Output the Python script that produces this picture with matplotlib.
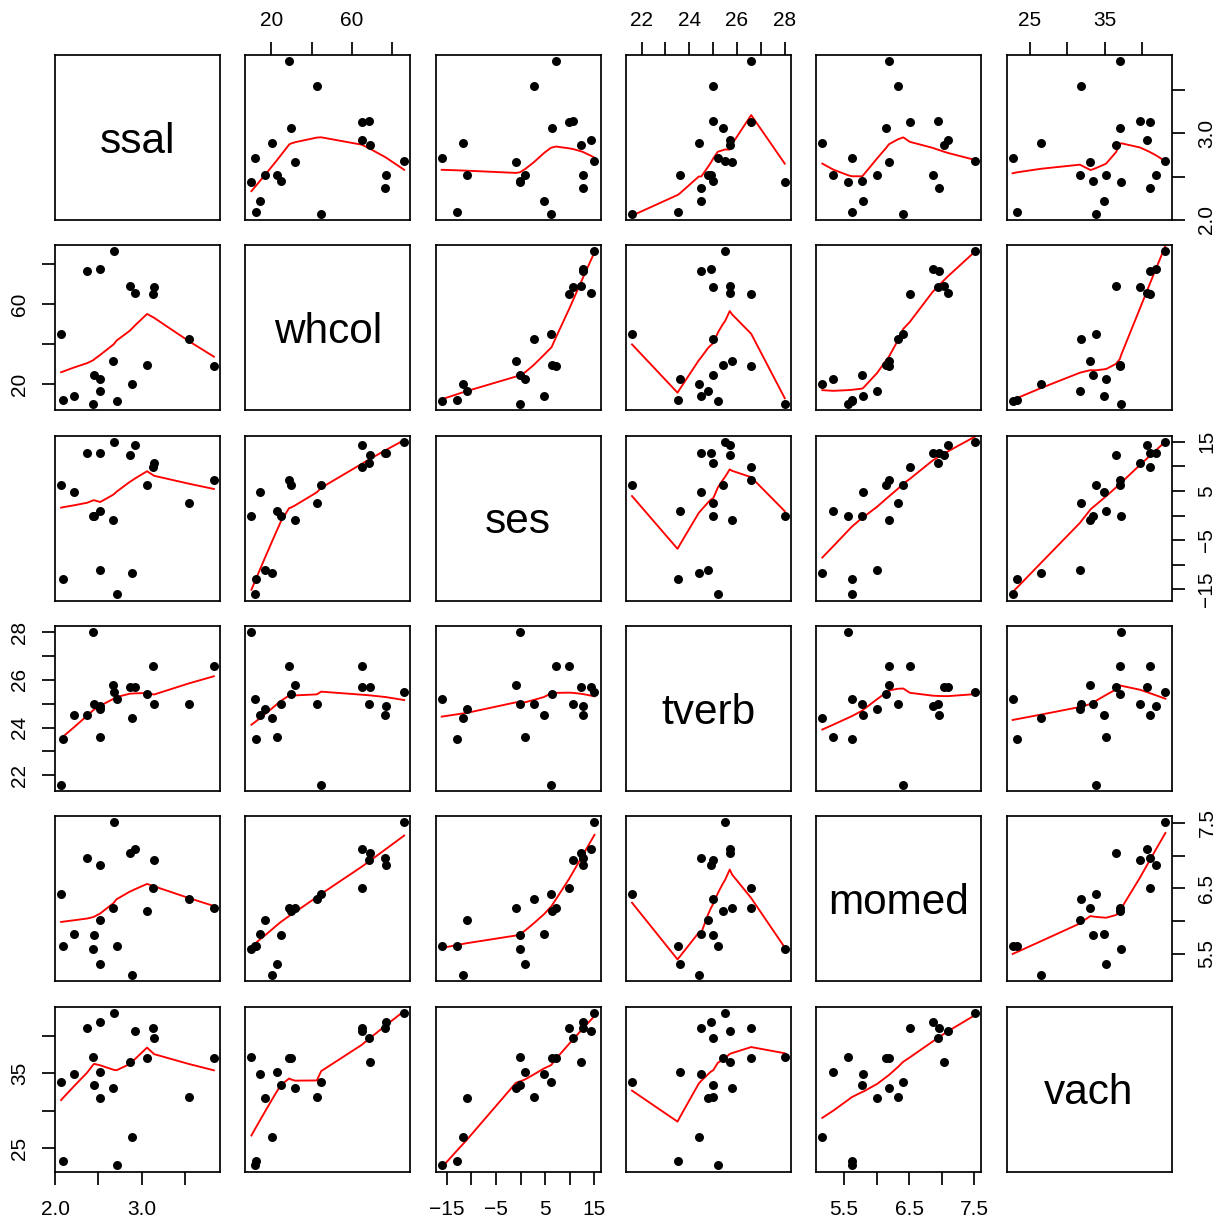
import numpy as np
import matplotlib
matplotlib.use("Agg")
import matplotlib.pyplot as plt
import matplotlib.transforms as mtransforms

plt.rcParams['font.family'] = ['Liberation Sans', 'DejaVu Sans']

# coleman 데이터 (20개 학교)
var_names = ["ssal", "whcol", "ses", "tverb", "momed", "vach"]
ssal = [3.83, 2.89, 2.86, 2.92, 3.06, 2.07, 2.52, 2.45, 3.13, 2.44,
        2.09, 2.52, 2.22, 2.67, 2.71, 3.14, 3.54, 2.52, 2.68, 2.37]
whcol = [28.87, 20.10, 69.05, 65.40, 29.59, 44.82, 77.37, 24.67, 65.01, 9.99,
         12.20, 22.55, 14.30, 31.79, 11.60, 68.47, 42.64, 16.70, 86.27, 76.73]
ses = [7.20, -11.71, 12.32, 14.28, 6.31, 6.16, 12.70, -0.17, 9.85, -0.05,
       -12.86, 0.92, 4.77, -0.96, -16.04, 10.62, 2.66, -10.99, 15.03, 12.77]
tverb = [26.60, 24.40, 25.70, 25.70, 25.40, 21.60, 24.90, 25.01, 26.60, 28.01,
         23.51, 23.60, 24.51, 25.80, 25.20, 25.01, 25.01, 24.80, 25.51, 24.51]
momed = [6.19, 5.17, 7.04, 7.10, 6.15, 6.41, 6.86, 5.78, 6.51, 5.57,
         5.62, 5.34, 5.80, 6.19, 5.62, 6.94, 6.33, 6.01, 7.51, 6.96]
vach = [37.01, 26.51, 36.51, 40.70, 37.10, 33.90, 41.80, 33.40, 41.01, 37.20,
        23.30, 35.20, 34.90, 33.10, 22.70, 39.70, 31.80, 31.70, 43.10, 41.01]

# 축 눈금 (라벨 빈 문자열 = R 이 겹쳐서 생략한 것)
tick_vals = {
    "ssal": [2.0, 2.5, 3.0, 3.5],
    "whcol": [20, 40, 60, 80],
    "ses": [-15, -10, -5, 0, 5, 10, 15],
    "tverb": [22, 23, 24, 25, 26, 27, 28],
    "momed": [5.5, 6.0, 6.5, 7.0, 7.5],
    "vach": [25, 30, 35, 40],
}
tick_labels = {
    "ssal": ["2.0", "", "3.0", ""],
    "whcol": ["20", "", "60", ""],
    "ses": ["\u221215", "", "\u22125", "", "5", "", "15"],
    "tverb": ["22", "", "24", "", "26", "", "28"],
    "momed": ["5.5", "", "6.5", "", "7.5"],
    "vach": ["25", "", "35", ""],
}

data = [ssal, whcol, ses, tverb, momed, vach]


def lowest(x, y, n, xs, nleft, nright, w, userw, rw):
    rng = x[n - 1] - x[0]
    h = max(xs - x[nleft], x[nright] - xs)
    h9 = 0.999 * h
    h1 = 0.001 * h
    a = 0.0
    j = nleft
    while j < n:
        w[j] = 0.0
        r = abs(x[j] - xs)
        if r <= h9:
            if r <= h1:
                w[j] = 1.0
            else:
                w[j] = (1 - (r / h) ** 3) ** 3
            if userw:
                w[j] *= rw[j]
            a += w[j]
        elif x[j] > xs:
            break
        j += 1
    nrt = j - 1
    if a <= 0:
        return None
    for k in range(nleft, nrt + 1):
        w[k] /= a
    if h > 0:
        a = sum(w[k] * x[k] for k in range(nleft, nrt + 1))
        b = xs - a
        c = sum(w[k] * (x[k] - a) ** 2 for k in range(nleft, nrt + 1))
        if np.sqrt(c) > 0.001 * rng:
            b /= c
            for k in range(nleft, nrt + 1):
                w[k] *= (b * (x[k] - a) + 1)
    return sum(w[k] * y[k] for k in range(nleft, nrt + 1))


def lowess(x, y, f=2 / 3, iters=3):
    # R 의 clowess 를 그대로 옮김
    o = np.argsort(x, kind="stable")
    x = np.asarray(x, float)[o]
    y = np.asarray(y, float)[o]
    n = len(x)
    delta = 0.01 * (x[-1] - x[0])
    ns = max(2, min(n, int(f * n + 1e-7)))
    ys = np.zeros(n)
    rw = np.ones(n)
    w = np.zeros(n)
    it = 1
    while it <= iters + 1:
        nleft, nright, last, i = 0, ns - 1, -1, 0
        while True:
            if nright < n - 1:
                d1 = x[i] - x[nleft]
                d2 = x[nright + 1] - x[i]
                if d1 > d2:
                    nleft += 1
                    nright += 1
                    continue
            v = lowest(x, y, n, x[i], nleft, nright, w, it > 1, rw)
            ys[i] = y[i] if v is None else v
            if last < i - 1:
                denom = x[i] - x[last]
                for j in range(last + 1, i):
                    alpha = (x[j] - x[last]) / denom
                    ys[j] = alpha * ys[i] + (1 - alpha) * ys[last]
            last = i
            cut = x[last] + delta
            i = last + 1
            while i < n:
                if x[i] > cut:
                    break
                if x[i] == x[last]:
                    ys[i] = ys[last]
                    last = i
                i += 1
            i = max(last + 1, i - 1)
            if last >= n - 1:
                break
        res = y - ys
        sc = np.sum(np.abs(res)) / n
        if it > iters:
            break
        srt = np.sort(np.abs(res))
        m1 = n // 2
        if n % 2 == 0:
            cmad = 3 * (srt[m1] + srt[n - m1 - 1])
        else:
            cmad = 6 * srt[m1]
        if cmad < 1e-7 * sc:
            break
        r = np.abs(res)
        rw = np.where(r <= 0.001 * cmad, 1.0,
                      np.where(r <= 0.999 * cmad, (1 - (r / cmad) ** 2) ** 2, 0.0))
        it += 1
    return x, ys


def lims(v):
    lo, hi = min(v), max(v)
    d = 0.04 * (hi - lo)
    return lo - d, hi + d


W, H = 1222, 1223
fig = plt.figure(figsize=(W / 100, H / 100), dpi=100)

x0, y_top = 55.0, 55.0
pw, gap = 165.0, 25.3
lab_fs = 15
diag_fs = 30.5
tick_len = 9.2
lw = 1.25

nv = len(var_names)
for i in range(nv):
    for j in range(nv):
        left = (x0 + j * (pw + gap)) / W
        bottom = (H - (y_top + i * (pw + gap) + pw)) / H
        ax = fig.add_axes([left, bottom, pw / W, pw / H])
        for sp in ax.spines.values():
            sp.set_linewidth(lw)
        ax.set_xticks([])
        ax.set_yticks([])
        if i == j:
            ax.set_xlim(0, 1)
            ax.set_ylim(0, 1)
            off = mtransforms.ScaledTranslation(0, -0.358 * diag_fs / 72, fig.dpi_scale_trans)
            ax.text(0.5, 0.5, var_names[i], transform=ax.transAxes + off,
                    ha="center", va="baseline", fontsize=diag_fs)
            continue
        xv, yv = data[j], data[i]
        ax.scatter(xv, yv, s=42, c="black", linewidths=0, zorder=3)
        lx, ly = lowess(xv, yv)
        ax.plot(lx, ly, color="red", lw=1.35, zorder=2)

        xn, yn = var_names[j], var_names[i]
        if i == 0 and j % 2 == 1:
            ax.set_xticks(tick_vals[xn])
            ax.set_xticklabels(tick_labels[xn])
            ax.xaxis.tick_top()
            ax.tick_params(axis="x", pad=8.5)
        if i == nv - 1 and j % 2 == 0:
            ax.set_xticks(tick_vals[xn])
            ax.set_xticklabels(tick_labels[xn])
            ax.tick_params(axis="x", pad=11.5)
        if j == 0 and i % 2 == 1:
            ax.set_yticks(tick_vals[yn])
            ax.set_yticklabels(tick_labels[yn], rotation=90, va="center")
            ax.tick_params(axis="y", pad=9.5)
        if j == nv - 1 and i % 2 == 0:
            ax.set_yticks(tick_vals[yn])
            ax.set_yticklabels(tick_labels[yn], rotation=90, va="center")
            ax.yaxis.tick_right()
            ax.tick_params(axis="y", pad=9.5)
        ax.tick_params(direction="out", length=tick_len, width=lw,
                       labelsize=lab_fs)
        # R 처럼 4% 여유
        ax.set_xlim(*lims(xv))
        ax.set_ylim(*lims(yv))

fig.savefig("out.png", dpi=100)
